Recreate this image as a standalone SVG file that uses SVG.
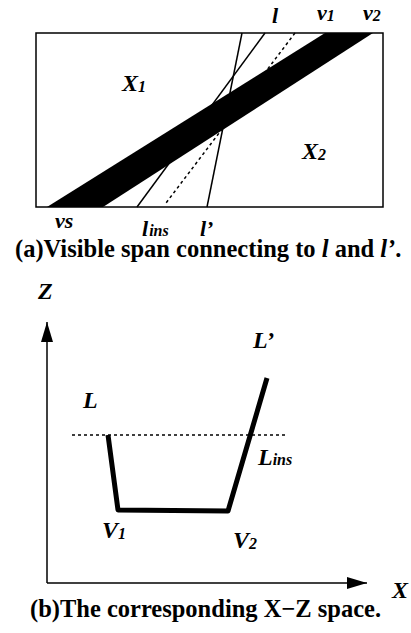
<svg xmlns="http://www.w3.org/2000/svg" width="411" height="633" viewBox="0 0 411 633">
<style>
.lbl{font-family:"Liberation Serif","Times New Roman",serif;font-weight:bold;font-style:italic;font-size:24px;fill:#000}
.sm{font-size:22px}
.sub{font-size:16px}
.cap{font-family:"Liberation Serif","Times New Roman",serif;font-weight:bold;font-size:24.5px;fill:#000}
.thin{stroke:#000;stroke-width:1.5;fill:none}
.dash{stroke:#000;stroke-width:1.5;fill:none;stroke-dasharray:3,3}
.thick{stroke:#000;stroke-width:5;fill:none;stroke-linejoin:round}
</style>
<defs>
<marker id="ah" viewBox="0 0 20 12" refX="20" refY="6" markerWidth="20" markerHeight="12" markerUnits="userSpaceOnUse" orient="auto">
<path d="M0,0 L20,6 L0,12 Z" fill="#000"/>
</marker>
</defs>
<rect width="411" height="633" fill="#fff"/>
<g id="panel-a">
<rect x="36" y="33" width="347" height="174" class="thin"/>
<g id="connectors-a">
<line x1="265" y1="33" x2="137" y2="207" class="thin"/>
<line x1="242" y1="33" x2="207" y2="207" class="thin"/>
<line x1="295" y1="33" x2="166" y2="203" class="dash"/>
</g>
<polygon id="band" points="47,207 325,33 373,33 103,207" fill="#000"/>
<text class="lbl sm" x="272" y="23">l</text>
<text class="lbl sm" x="317" y="20">v<tspan class="sub" dy="1">1</tspan></text>
<text class="lbl sm" x="363" y="20">v<tspan class="sub" dy="1">2</tspan></text>
<text class="lbl" x="122" y="91">X<tspan class="sub" dy="1">1</tspan></text>
<text class="lbl" x="302" y="159">X<tspan class="sub" dy="1">2</tspan></text>
<text class="lbl sm" x="55" y="228">vs</text>
<text class="lbl sm" x="142" y="236">l<tspan class="sub" dx="1">ins</tspan></text>
<text class="lbl sm" x="200" y="236">l’</text>
<text class="cap" x="15" y="257">(a)Visible span connecting to <tspan font-style="italic">l</tspan> and <tspan font-style="italic">l’</tspan>.</text>
</g>
<g id="panel-b">
<g id="connectors-b">
<line x1="47" y1="583" x2="47" y2="322" class="thin" stroke-width="2" marker-end="url(#ah)"/>
<line x1="47" y1="583" x2="367" y2="583" class="thin" stroke-width="2" marker-end="url(#ah)"/>
<line x1="72" y1="435" x2="287" y2="435" class="dash"/>
<polyline points="108,435 118,510 228,511 267,378" class="thick"/>
</g>
<text class="lbl" x="38" y="299" font-style="normal">Z</text>
<text class="lbl" x="392" y="598">X</text>
<text class="lbl" x="83" y="408">L</text>
<text class="lbl" x="253" y="348">L’</text>
<text class="lbl" x="258" y="465">L<tspan class="sub">ins</tspan></text>
<text class="lbl" x="102" y="538">V<tspan class="sub" dy="1">1</tspan></text>
<text class="lbl" x="233" y="548">V<tspan class="sub" dy="1">2</tspan></text>
<text class="cap" x="30" y="617">(b)The corresponding X−Z space.</text>
</g>
</svg>
